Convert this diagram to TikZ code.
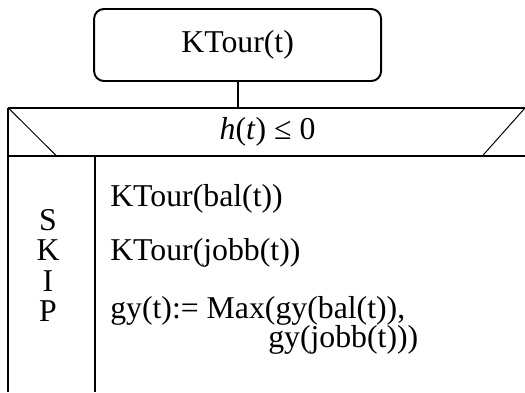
\documentclass[tikz,border=0pt]{standalone}
\usepackage{fontspec}
\setmainfont{Liberation Serif}
\usetikzlibrary{positioning}
\tikzset{
  frame/.style   ={line width=1.4pt},
  slant/.style   ={line width=0.7pt},
  titlebox/.style={draw, rounded corners=7pt, line width=1.4pt,
                   minimum width=7.175cm, minimum height=1.8cm,
                   inner sep=0pt},
  txt/.style     ={font=\fontsize{22.6}{27}\selectfont, inner sep=0pt},
}

\begin{document}
\begin{tikzpicture}
  \useasboundingbox (0,0) rectangle (13.125,9.8);
  \coordinate (nw) at (0.21,7.1);
  \coordinate (ne) at (13.125,7.1);
  \coordinate (sw) at (0.21,5.89);
  \coordinate (se) at (13.125,5.89);
  \coordinate (div) at (2.375,5.89);
  \node[titlebox, txt] (title) at (5.94,8.675) {KTour(t)};
  \draw[frame] (title.south) -- (title.south |- nw);
  % condition row
  \draw[frame] (nw) -- (ne) (sw) -- (se);
  \draw[slant] (nw) -- (1.425,5.89) (12.05,5.89) -- (ne);
  \node[txt] (cond) at (6.69,6.5) {\textit{h}(\textit{t}) ≤ 0};
  % body: skip column and the loop body
  \draw[frame] (nw) -- (nw |- 0,0);
  \draw[frame] (div) -- (div |- 0,0);
  \foreach \ch [count=\i] in {S,K,I,P}
    \node[txt, anchor=base] (skip\i) at (1.2,4.05-0.765*\i+0.765) {\ch};
  \node[txt, anchor=base west] (bal)  at (2.75,4.65) {KTour(bal(t))};
  \node[txt, anchor=base west] (jobb) at (2.75,3.3)  {KTour(jobb(t))};
  \node[txt, anchor=base west] (gy)   at (2.75,1.85) {gy(t):= Max(gy(bal(t)),};
  \node[txt, anchor=base west] (gy2)  at (6.7,1.125) {gy(jobb(t)))};
\end{tikzpicture}
\end{document}
